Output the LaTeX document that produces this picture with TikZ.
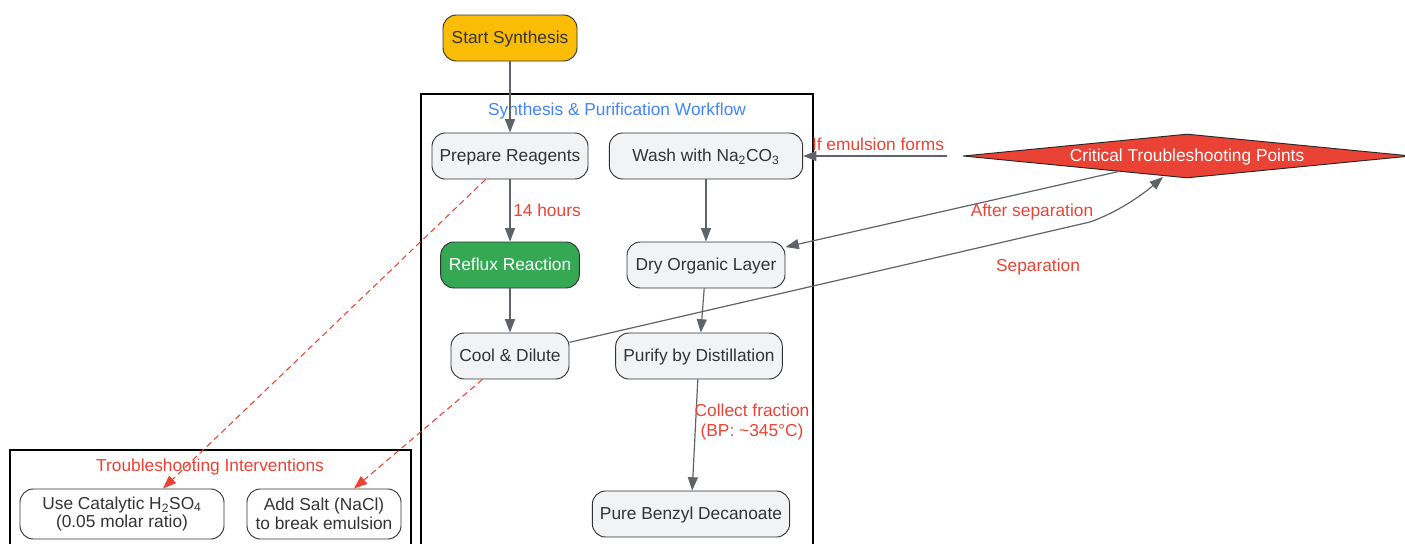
\documentclass[tikz,border=0pt]{standalone}
\usepackage{fontspec}
\setmainfont{Liberation Sans}
\usetikzlibrary{arrows.meta,shapes.geometric,calc}
\definecolor{nodegray}{HTML}{F1F3F4}
\definecolor{textdark}{HTML}{333333}
\definecolor{gyellow}{HTML}{FBBC05}
\definecolor{ggreen}{HTML}{34A853}
\definecolor{gred}{HTML}{EA4335}
\definecolor{gblue}{HTML}{4285F4}
\definecolor{edgegray}{HTML}{5F6368}
\begin{document}
\begin{tikzpicture}[x=0.75pt,y=-0.75pt,
  font=\fontsize{13}{15}\selectfont,
  basebox/.style={draw=textdark, rounded corners=10pt, fill=nodegray, text=textdark,
    minimum height=34.5pt, inner sep=2pt, line width=0.7pt, align=center},
  box/.style={basebox, text height=1.05em, text depth=0.21em},
  box2/.style={basebox, fill=white, minimum height=37.5pt, inner sep=1pt,
    font=\fontsize{13}{14}\selectfont},
  edge/.style={draw=edgegray, line width=0.9pt, -{Triangle[length=10pt,width=7.5pt]}},
  redge/.style={draw=gred, line width=0.8pt, dash pattern=on 4.5pt off 3pt,
    -{Triangle[length=10pt,width=7.5pt]}},
  lab/.style={text=gred, inner sep=1pt, align=center},
  cluster/.style={draw=black, line width=0.8pt}
]
\useasboundingbox (0,0) rectangle (1405,543);
\clip (0,0) rectangle (1405,543);

% clusters
\draw[cluster] (421,94) rectangle (813,570);
\node[text=gblue] (t1) at (617,111) {Synthesis \& Purification Workflow};
\draw[cluster] (10,450) rectangle (411,570);
\node[text=gred] (t2) at (210,467) {Troubleshooting Interventions};

% nodes
\node[box, fill=gyellow, minimum width=100.5pt] (start) at (510,38) {Start Synthesis};
\node[box, minimum width=117pt] (prep) at (510,156) {Prepare Reagents};
\node[box, minimum width=145pt] (wash) at (706,156) {Wash with Na\textsubscript{2}CO\textsubscript{3}};
\node[box, fill=ggreen, text=white, minimum width=104pt] (reflux) at (510,265) {Reflux Reaction};
\node[box, minimum width=118.5pt] (dry) at (706,265) {Dry Organic Layer};
\node[box, minimum width=88.5pt] (cool) at (510,356) {Cool \& Dilute};
\node[box, minimum width=125pt] (purify) at (699,356) {Purify by Distillation};
\node[box, minimum width=148pt] (pure) at (691,514) {Pure Benzyl Decanoate};
\node[box2, minimum width=153pt] (cat) at (122,514) {Use Catalytic H\textsubscript{2}SO\textsubscript{4}\\(0.05 molar ratio)};
\node[box2, minimum width=115.5pt] (salt) at (324,514) {Add Salt (NaCl)\\to break emulsion};
\node[diamond, aspect=10, draw=black!85, fill=gred, text=white, line width=0.7pt,
  minimum width=336pt, minimum height=33pt, inner sep=0pt,
  text height=1.05em, text depth=0.21em] (crit) at (1187,156) {Critical Troubleshooting Points};

\coordinate (sepA) at (1090,222);
\coordinate (critS) at (1163,177);

% edges
\draw[edge] (start) -- (prep);
\draw[edge] (prep) -- node[lab, right, xshift=1pt] (l1) {14 hours} (reflux);
\draw[edge] (reflux) -- (cool);
\draw[edge] (wash) -- (dry);
\draw[edge] (dry) -- (purify);
\draw[edge] (purify) -- (pure);
\node[lab] (l2) at (752,422) {Collect fraction\\(BP: \textasciitilde345°C)};
\draw[edge, shorten <=12pt] (crit) -- (wash);
\node[lab] (l3) at (878,144) {If emulsion forms};
\draw[edge] (crit) -- (dry);
\node[lab] (l4) at (1032,212) {After separation};
\draw[edge] (cool) -- (sepA) .. controls (1118,212) and (1142,195) .. (critS);
\node[lab] (l5) at (1038,267) {Separation};
\draw[redge] (prep) -- ($(cat.north)+(41,0)$);
\draw[redge] (cool) -- (salt);
\end{tikzpicture}
\end{document}
